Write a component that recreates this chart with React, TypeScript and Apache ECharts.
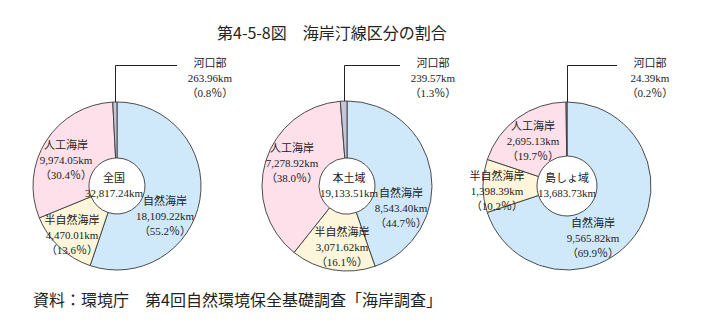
import React, { useEffect, useRef } from "react";
import * as echarts from "echarts";

// ---- data ----
const categories = ["自然海岸", "半自然海岸", "人工海岸", "河口部"];
const regionNames = ["全国", "本土域", "島しょ域"];
const regionTotals = [32817.24, 19133.51, 13683.73];
const zenkokuValues = [18109.22, 4470.01, 9974.05, 263.96];
const hondoValues = [8543.4, 3071.62, 7278.92, 239.57];
const toushoValues = [9565.82, 1398.39, 2695.13, 24.39];
const zenkokuPct = [55.2, 13.6, 30.4, 0.8];
const hondoPct = [44.7, 16.1, 38.0, 1.3];
const toushoPct = [69.9, 10.2, 19.7, 0.2];
const titleText = "第4-5-8図　海岸汀線区分の割合";
const sourceText = "資料：環境庁　第4回自然環境保全基礎調査「海岸調査」";

// ---- layout / style ----
const colors = ["#cfe9fa", "#fdf6da", "#fde0ea", "#c6c6da"];
const serif = "'Liberation Serif', 'Noto Sans CJK JP', serif";
const sans = "'Noto Sans CJK JP', 'Noto Sans', sans-serif";
const leaderY = 65.5;

const pieLayouts = [
  {
    center: [117, 186],
    radius: [28, 84],
    text: [114, 185],
    labels: [[165, 216], [72, 235], [66, 160], [210, 78]],
  },
  {
    center: [347, 186],
    radius: [28, 85],
    text: [349, 185],
    labels: [[401, 208], [342, 247], [292, 163], [433, 78]],
  },
  {
    center: [567, 186],
    radius: [30, 84],
    text: [567, 185],
    labels: [[593, 238], [497, 191], [533, 141], [650, 78]],
  },
];

const regionValues = [zenkokuValues, hondoValues, toushoValues];
const regionPct = [zenkokuPct, hondoPct, toushoPct];

const fmt = (v: number) =>
  v.toLocaleString("en-US", { minimumFractionDigits: 2, maximumFractionDigits: 2 });

export default function App() {
  const ref = useRef<HTMLDivElement>(null);

  useEffect(() => {
    if (!ref.current) return;
    const chart = echarts.init(ref.current, null, { renderer: "svg" });

    const series = regionValues.map((vals, ri) => {
      const lay = pieLayouts[ri];
      const pct = regionPct[ri];
      return {
        type: "pie",
        silent: true,
        center: lay.center,
        radius: lay.radius,
        startAngle: 90,
        clockwise: true,
        avoidLabelOverlap: false,
        emphasis: { scale: false },
        itemStyle: { borderColor: "#3a3a3a", borderWidth: 0.9 },
        label: {
          show: true,
          position: "inside",
          fontFamily: serif,
          fontSize: 11,
          lineHeight: 15,
          color: "#222",
          formatter: (p: any) =>
            `${p.name}\n${fmt(p.value)}km\n（${pct[p.dataIndex].toFixed(1)}％）`,
        },
        labelLine: { show: false },
        labelLayout: (p: any) => {
          const pos = lay.labels[p.dataIndex];
          return { x: pos[0], y: pos[1], align: "center", verticalAlign: "middle" };
        },
        data: categories.map((c, i) => ({
          name: c,
          value: vals[i],
          itemStyle: { color: colors[i] },
        })),
      };
    });

    const graphics: any[] = [];
    regionValues.forEach((vals, ri) => {
      const lay = pieLayouts[ri];
      const total = vals.reduce((a, b) => a + b, 0);
      const before = vals.slice(0, 3).reduce((a, b) => a + b, 0);
      const frac = (before + vals[3] / 2) / total;
      const th = frac * 2 * Math.PI;
      const R = lay.radius[1];
      const x = Math.round(lay.center[0] + R * Math.sin(th)) + 0.5;
      const y = lay.center[1] - R * Math.cos(th);
      const endX = lay.labels[3][0] - 33;
      graphics.push({
        type: "polyline",
        silent: true,
        shape: { points: [[x, y], [x, leaderY], [endX, leaderY]] },
        style: { stroke: "#222", lineWidth: 1, fill: "none" },
        z: 10,
      });
      graphics.push({
        type: "text",
        silent: true,
        x: lay.text[0],
        y: lay.text[1],
        style: {
          text: `${regionNames[ri]}\n${fmt(regionTotals[ri])}km`,
          fontFamily: serif,
          fontSize: 11,
          lineHeight: 15,
          fill: "#222",
          align: "center",
          verticalAlign: "middle",
        },
        z: 10,
      });
    });

    graphics.push({
      type: "text",
      silent: true,
      x: 217,
      y: 32,
      style: {
        text: titleText,
        fontFamily: sans,
        fontSize: 16,
        fill: "#222",
        align: "left",
        verticalAlign: "middle",
      },
    });
    graphics.push({
      type: "text",
      silent: true,
      x: 33,
      y: 299,
      style: {
        text: sourceText,
        fontFamily: sans,
        fontSize: 16,
        fill: "#222",
        align: "left",
        verticalAlign: "middle",
      },
    });

    chart.setOption({
      animation: false,
      backgroundColor: "#ffffff",
      series,
      graphic: { elements: graphics },
    });

    return () => chart.dispose();
  }, []);

  return (
    <div
      ref={ref}
      style={{ position: "absolute", left: 0, top: 0, width: 705, height: 329 }}
    />
  );
}
